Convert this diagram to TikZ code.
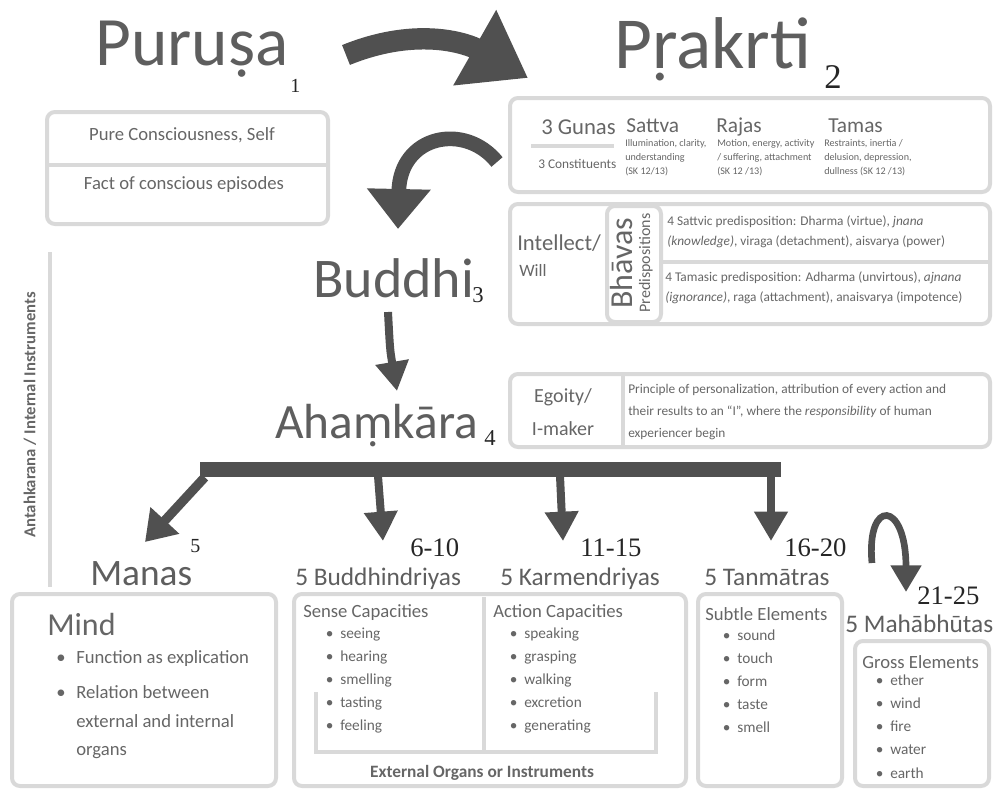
\documentclass[tikz,border=0pt]{standalone}
\usepackage{fontspec}
\setmainfont{Carlito}
\newfontfamily\numfont{Liberation Serif}
\usetikzlibrary{arrows.meta}
\definecolor{inkgray}{HTML}{666666}
\definecolor{titlegray}{HTML}{5E5E5E}
\definecolor{linegray}{HTML}{D9D9D9}
\definecolor{arrowgray}{HTML}{505050}
\newcommand{\fsz}[1]{\fontsize{#1}{#1}\selectfont}
\tikzset{
  txt/.style={text=inkgray, inner sep=0pt, anchor=base west},
  title/.style={txt, text=titlegray, font=\fsz{#1}},
  num/.style={txt, text=black!85, font=\numfont\fsz{#1}},
  box/.style={draw=linegray, line width=3pt, rounded corners=6pt},
  rule/.style={draw=linegray, line width=3pt},
  brush/.style={draw=arrowgray, line width=#1},
  item/.style={txt, font=\fsz{11.5}},
}
\newcommand{\bul}[1]{\llap{\textbullet\hspace{5pt}}#1}
\begin{document}
\begin{tikzpicture}[x=0.75pt,y=-0.75pt]
  \useasboundingbox (0,0) rectangle (993,789);
  % Purusa
  \node[title=52] (purusa) at (95,65) {Puruṣa};
  \node[num=15] (purusa-n) at (290,92) {1};
  \draw[box] (47,112) rectangle (328,224);
  \draw[rule] (47,165) -- (328,165);
  \node[txt, anchor=base, font=\fsz{14}] (self) at (182,140) {Pure Consciousness, Self};
  \node[txt, anchor=base, font=\fsz{14}] (fact) at (184,189) {Fact of conscious episodes};
  % Prakrti
  \node[title=55] (prakrti) at (614,68) {Pṛakrti};
  \node[num=26] (prakrti-n) at (824,88) {2};
  \draw[box] (510,98) rectangle (990,192);
  \node[txt, font=\fsz{17}] (gunas) at (541,134) {3 Gunas};
  \draw[rule] (531,146) -- (614,146);
  \node[txt, font=\fsz{10}] (constit) at (538,168) {3 Constituents};
  \foreach \name/\xx/\a/\b/\c in {sattva/625/{Illumination, clarity,}/understanding/{(SK 12/13)},
      rajas/717/{Motion, energy, activity}/{/ suffering, attachment}/{(SK 12 /13)},
      tamas/824/{Restraints, inertia /}/{delusion, depression,}/{dullness (SK 12 /13)}}{
    \node[txt, font=\fsz{7.6}] (\name-a) at (\xx,146) {\a};
    \node[txt, font=\fsz{7.6}] (\name-b) at (\xx,160) {\b};
    \node[txt, font=\fsz{7.6}] (\name-c) at (\xx,174) {\c};
  }
  \node[txt, font=\fsz{16}] (sattva) at (626,132) {Sattva};
  \node[txt, font=\fsz{16}] (rajas) at (716,132) {Rajas};
  \node[txt, font=\fsz{16}] (tamas) at (828,132) {Tamas};
  % Buddhi
  \node[title=42] (buddhi) at (313,297) {Buddhi};
  \node[num=17] (buddhi-n) at (472,302) {3};
  \draw[box] (510,204) rectangle (990,324);
  \draw[box] (607,206) rectangle (661,322);
  \draw[rule] (661,262) -- (990,262);
  \node[txt, font=\fsz{17}] (intellect) at (517,250) {Intellect/};
  \node[txt, font=\fsz{13}] (will) at (519,276) {Will};
  \node[txt, anchor=base, rotate=90, font=\fsz{24}] (bhavas) at (632,263) {Bhāvas};
  \node[txt, anchor=base, rotate=90, font=\fsz{12}] (predisp) at (650,263) {Predispositions};
  \node[txt, font=\fsz{10}] (sattvic-a) at (667,225) {4 Sattvic predisposition: Dharma (virtue), \textit{jnana}};
  \node[txt, font=\fsz{10}] (sattvic-b) at (667,245) {\textit{(knowledge)}, viraga (detachment), aisvarya (power)};
  \node[txt, font=\fsz{10}] (tamasic-a) at (665,281) {4 Tamasic predisposition: Adharma (unvirtous), \textit{ajnana}};
  \node[txt, font=\fsz{10}] (tamasic-b) at (665,301) {\textit{(ignorance)}, raga (attachment), anaisvarya (impotence)};
  % Ahamkara
  \node[title=37] (ahamkara) at (275,438) {Ahaṃkāra};
  \node[num=17] (ahamkara-n) at (484,445) {4};
  \draw[box] (510,374) rectangle (990,447);
  \draw[rule] (623,374) -- (623,447);
  \node[txt, anchor=base, font=\fsz{15}] (egoity) at (563,402) {Egoity/};
  \node[txt, anchor=base, font=\fsz{15}] (imaker) at (563,435) {I-maker};
  \node[txt, font=\fsz{10}] (princ-a) at (628,393) {Principle of personalization, attribution of every action and};
  \node[txt, font=\fsz{10}] (princ-b) at (628,415) {their results to an ``I'', where the \textit{responsibility} of human};
  \node[txt, font=\fsz{10}] (princ-c) at (628,437) {experiencer begin};
  % Antahkarana
  \draw[rule] (50,252) -- (50,587);
  \node[txt, anchor=center, rotate=90, font=\bfseries\fsz{12.5}] (antah) at (30,415) {Antahkarana / Internal Instruments};
  % Arrows
  \coordinate (pu-out) at (346,55);
  \coordinate (pk-in) at (528,78);
  \draw[brush=16pt, -{Triangle[length=46pt,width=62pt]}] (pu-out) .. controls (420,25) and (470,45) .. (pk-in);
  \coordinate (pk-out) at (497,162);
  \coordinate (bu-in) at (398,229);
  \draw[brush=11pt, -{Triangle[length=30pt,width=46pt]}] (pk-out) .. controls (465,122) and (400,135) .. (bu-in);
  \coordinate (bu-out) at (388,312);
  \coordinate (ah-in) at (397,391);
  \draw[brush=6pt, -{Triangle[length=22pt,width=24pt]}] (bu-out) .. controls (390,350) .. (ah-in);
  % Bar
  \node[fill=arrowgray, inner sep=0pt, minimum width=435.75pt, minimum height=11.25pt] (bar) at (490.5,469.5) {};
  \draw[brush=7pt, -{Triangle[length=22pt,width=28pt]}] (bar.south west) ++(5,0) -- (145,542);
  \foreach \xx/\dx [count=\i] in {378/5,560/3,771/0}{
    \coordinate (bar-\i) at (\xx,476);
    \draw[brush=6pt, -{Triangle[length=22pt,width=24pt]}] (bar-\i) -- ++(\dx,65);
  }
  \coordinate (tan-out) at (872,563);
  \coordinate (maha-in) at (906,592);
  \draw[brush=5pt, -{Triangle[length=20pt,width=22pt]}] (tan-out) .. controls (866,498) and (906,500) .. (maha-in);
  % Manas
  \node[title=28] (manas) at (90,585) {Manas};
  \node[num=15] (manas-n) at (190,552) {5};
  \draw[box] (12,594) rectangle (276,786);
  \node[txt, font=\fsz{24}] (mind) at (47,635) {Mind};
  \node[txt, font=\fsz{14}] (mind-1) at (76,663) {\llap{\textbullet\hspace{8pt}}Function as explication};
  \node[txt, font=\fsz{14}] (mind-2) at (76,698) {\llap{\textbullet\hspace{8pt}}Relation between};
  \node[txt, font=\fsz{14}] (mind-3) at (76,727) {external and internal};
  \node[txt, font=\fsz{14}] (mind-4) at (76,755) {organs};
  % Buddhindriyas and Karmendriyas
  \node[title=19] (buddhin) at (295,585) {5 Buddhindriyas};
  \node[num=20] (buddhin-n) at (410,556) {6-10};
  \node[title=19] (karmen) at (500,585) {5 Karmendriyas};
  \node[num=20] (karmen-n) at (580,556) {11-15};
  \draw[box] (294,594) rectangle (686,786);
  \draw[rule] (316,692) -- (316,752) -- (656,752) -- (656,692);
  \draw[rule] (484,597) -- (484,752);
  \node[txt, font=\fsz{14}] (sense) at (303,617) {Sense Capacities};
  \node[txt, font=\fsz{14}] (action) at (493,617) {Action Capacities};
  \foreach \w [count=\i from 0] in {seeing,hearing,smelling,tasting,feeling}
    \node[item] (sense-\i) at (340,{638+23*\i}) {\bul{\w}};
  \foreach \w [count=\i from 0] in {speaking,grasping,walking,excretion,generating}
    \node[item] (action-\i) at (524,{638+23*\i}) {\bul{\w}};
  \node[txt, anchor=base, font=\bfseries\fsz{13}] (external) at (482,777) {External Organs or Instruments};
  % Tanmatras
  \node[title=19] (tanma) at (704,585) {5 Tanmātras};
  \node[num=20] (tanma-n) at (784,556) {16-20};
  \draw[box] (698,594) rectangle (842,786);
  \node[txt, font=\fsz{14}] (subtle) at (705,620) {Subtle Elements};
  \foreach \w [count=\i from 0] in {sound,touch,form,taste,smell}
    \node[item] (subtle-\i) at (737,{640+23*\i}) {\bul{\w}};
  % Mahabhutas
  \node[title=19] (mahab) at (845,632) {5 Mahābhūtas};
  \node[num=20] (mahab-n) at (917,604) {21-25};
  \draw[box] (855,641) rectangle (989,786);
  \node[txt, font=\fsz{14}] (gross) at (862,668) {Gross Elements};
  \foreach \w [count=\i from 0] in {ether,wind,fire,water,earth}
    \node[item] (gross-\i) at (890,{685+23.3*\i}) {\bul{\w}};
\end{tikzpicture}
\end{document}
